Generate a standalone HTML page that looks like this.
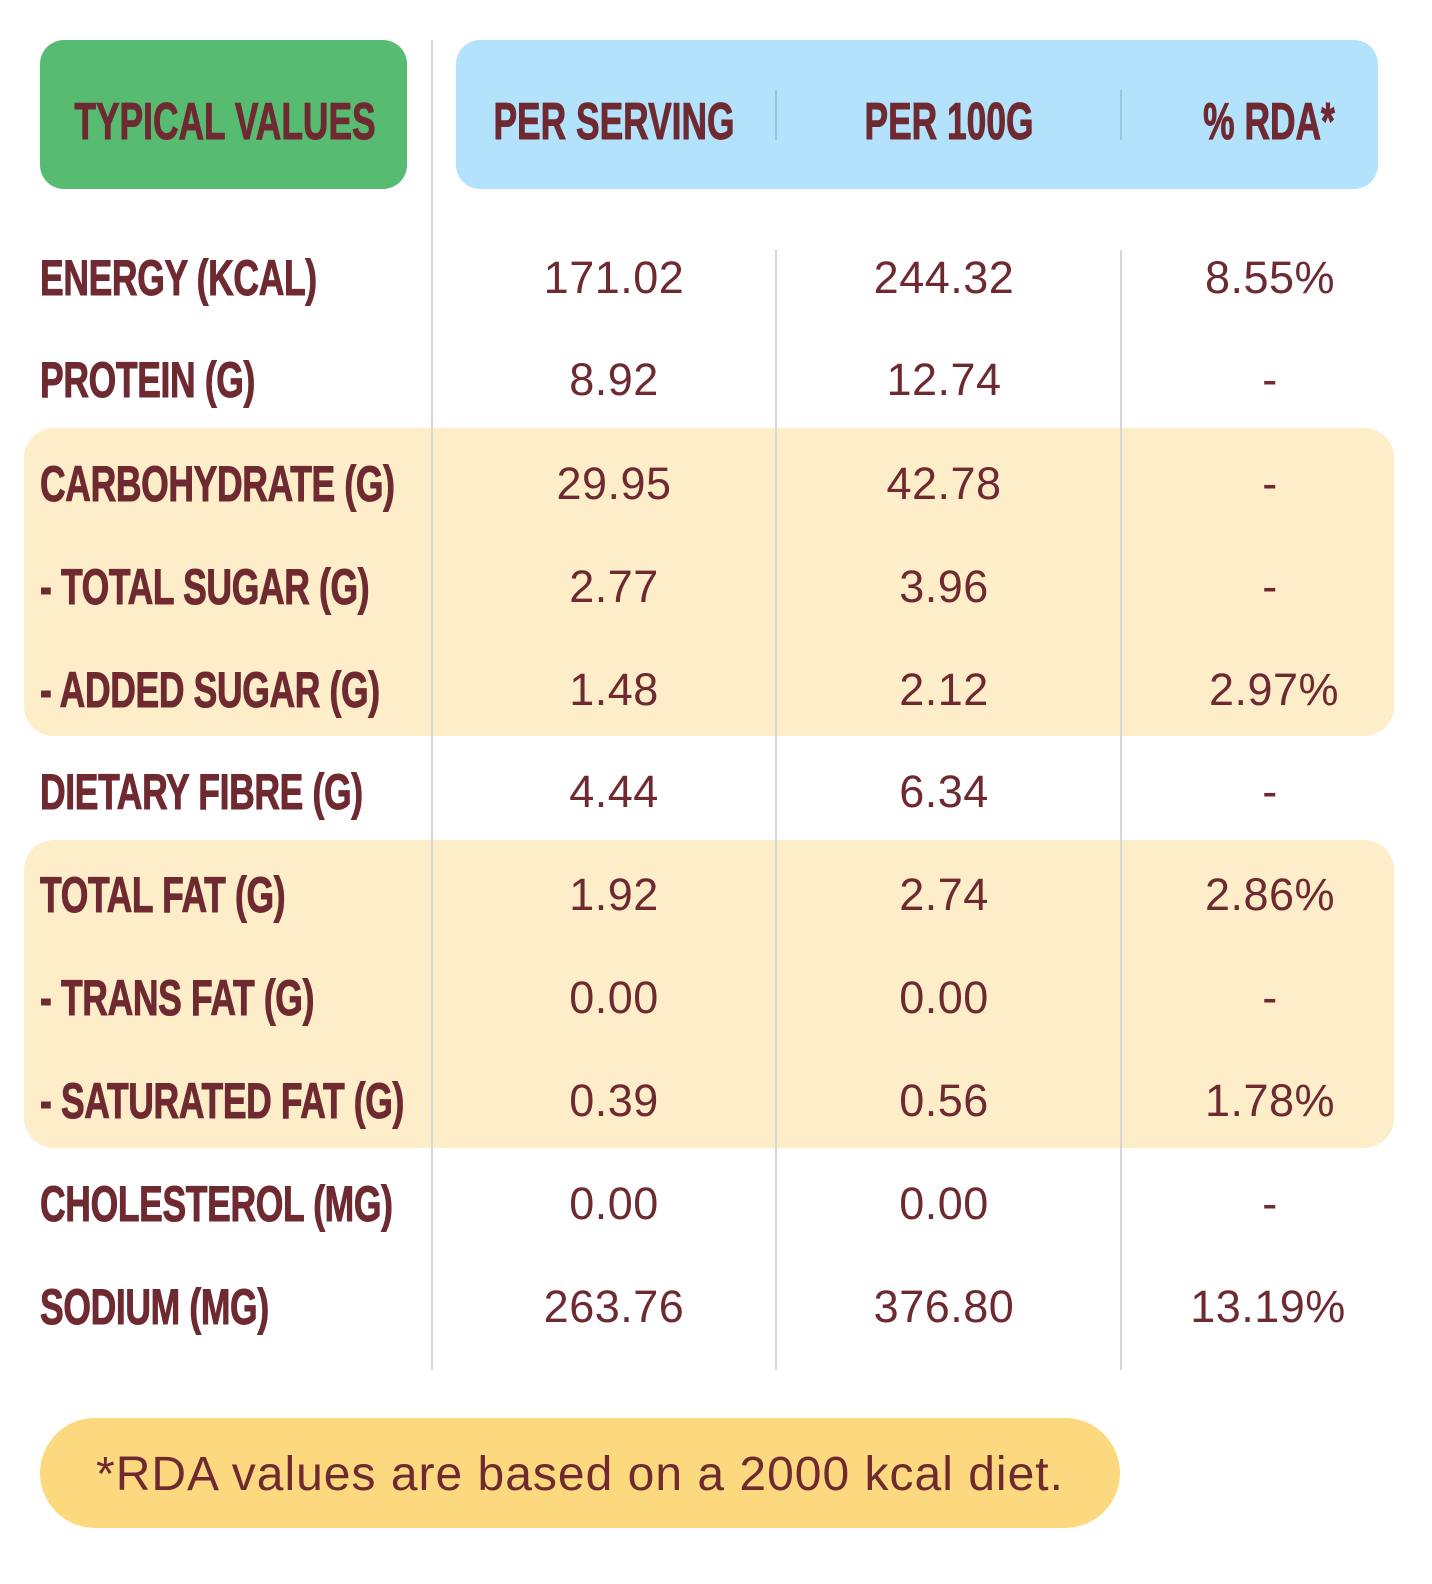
<!DOCTYPE html>
<html><head><meta charset="utf-8"><style>
html,body{margin:0;padding:0;background:#fff;}
body{width:1432px;height:1584px;position:relative;overflow:hidden;color:#6e2a30;font-family:"Liberation Sans",sans-serif;}
.a{position:absolute;}
.band{position:absolute;left:24px;width:1370px;height:308px;background:#fdedc9;border-radius:30px;}
.vl{position:absolute;width:2px;background:#d6d6d6;}
.lab{position:absolute;left:40px;font-weight:bold;font-size:50px;line-height:50px;white-space:nowrap;transform:scaleX(0.71);transform-origin:left center;letter-spacing:-0.5px;-webkit-text-stroke:1px #6e2a30;}
.num{position:absolute;font-size:45px;line-height:50px;width:300px;text-align:center;white-space:nowrap;letter-spacing:0.5px;}
.hd{position:absolute;font-weight:bold;font-size:52px;line-height:52px;white-space:nowrap;text-align:center;width:500px;transform:scaleX(0.68);-webkit-text-stroke:1px #6e2a30;}
</style></head><body>
<div class="band" style="top:428px"></div>
<div class="band" style="top:840px"></div>
<div class="a" style="left:40px;top:40px;width:367px;height:149px;background:#57bb71;border-radius:24px"></div>
<div class="a" style="left:456px;top:40px;width:922px;height:149px;background:#b3e3fc;border-radius:24px"></div>
<div class="vl" style="left:431px;top:40px;height:1330px"></div>
<div class="vl" style="left:775px;top:90px;height:50px;background:#9cc4d8"></div>
<div class="vl" style="left:1120px;top:90px;height:50px;background:#9cc4d8"></div>
<div class="vl" style="left:775px;top:250px;height:1120px"></div>
<div class="vl" style="left:1120px;top:250px;height:1120px"></div>
<div class="hd" style="left:-25px;top:96px">TYPICAL VALUES</div>
<div class="hd" style="left:364px;top:96px">PER SERVING</div>
<div class="hd" style="left:699px;top:96px">PER 100G</div>
<div class="hd" style="left:1019px;top:96px">% RDA*</div>

<div class="lab" style="top:253px">ENERGY (KCAL)</div>
<div class="lab" style="top:355px">PROTEIN (G)</div>
<div class="lab" style="top:459px">CARBOHYDRATE (G)</div>
<div class="lab" style="top:562px">- TOTAL SUGAR (G)</div>
<div class="lab" style="top:665px">- ADDED SUGAR (G)</div>
<div class="lab" style="top:767px">DIETARY FIBRE (G)</div>
<div class="lab" style="top:870px">TOTAL FAT (G)</div>
<div class="lab" style="top:973px">- TRANS FAT (G)</div>
<div class="lab" style="top:1076px">- SATURATED FAT (G)</div>
<div class="lab" style="top:1179px">CHOLESTEROL (MG)</div>
<div class="lab" style="top:1282px">SODIUM (MG)</div>

<div class="num" style="left:464px;top:253px">171.02</div>
<div class="num" style="left:794px;top:253px">244.32</div>
<div class="num" style="left:1120px;top:253px">8.55%</div>
<div class="num" style="left:464px;top:355px">8.92</div>
<div class="num" style="left:794px;top:355px">12.74</div>
<div class="num" style="left:1120px;top:355px">-</div>
<div class="num" style="left:464px;top:459px">29.95</div>
<div class="num" style="left:794px;top:459px">42.78</div>
<div class="num" style="left:1120px;top:459px">-</div>
<div class="num" style="left:464px;top:562px">2.77</div>
<div class="num" style="left:794px;top:562px">3.96</div>
<div class="num" style="left:1120px;top:562px">-</div>
<div class="num" style="left:464px;top:665px">1.48</div>
<div class="num" style="left:794px;top:665px">2.12</div>
<div class="num" style="left:1124px;top:665px">2.97%</div>
<div class="num" style="left:464px;top:767px">4.44</div>
<div class="num" style="left:794px;top:767px">6.34</div>
<div class="num" style="left:1120px;top:767px">-</div>
<div class="num" style="left:464px;top:870px">1.92</div>
<div class="num" style="left:794px;top:870px">2.74</div>
<div class="num" style="left:1120px;top:870px">2.86%</div>
<div class="num" style="left:464px;top:973px">0.00</div>
<div class="num" style="left:794px;top:973px">0.00</div>
<div class="num" style="left:1120px;top:973px">-</div>
<div class="num" style="left:464px;top:1076px">0.39</div>
<div class="num" style="left:794px;top:1076px">0.56</div>
<div class="num" style="left:1120px;top:1076px">1.78%</div>
<div class="num" style="left:464px;top:1179px">0.00</div>
<div class="num" style="left:794px;top:1179px">0.00</div>
<div class="num" style="left:1120px;top:1179px">-</div>
<div class="num" style="left:464px;top:1282px">263.76</div>
<div class="num" style="left:794px;top:1282px">376.80</div>
<div class="num" style="left:1118px;top:1282px">13.19%</div>

<div class="a" style="left:40px;top:1418px;width:1080px;height:110px;background:#fcd87f;border-radius:55px;text-align:center;line-height:114px;font-size:48px;letter-spacing:1px">*RDA values are based on a 2000 kcal diet.</div>
</body></html>
